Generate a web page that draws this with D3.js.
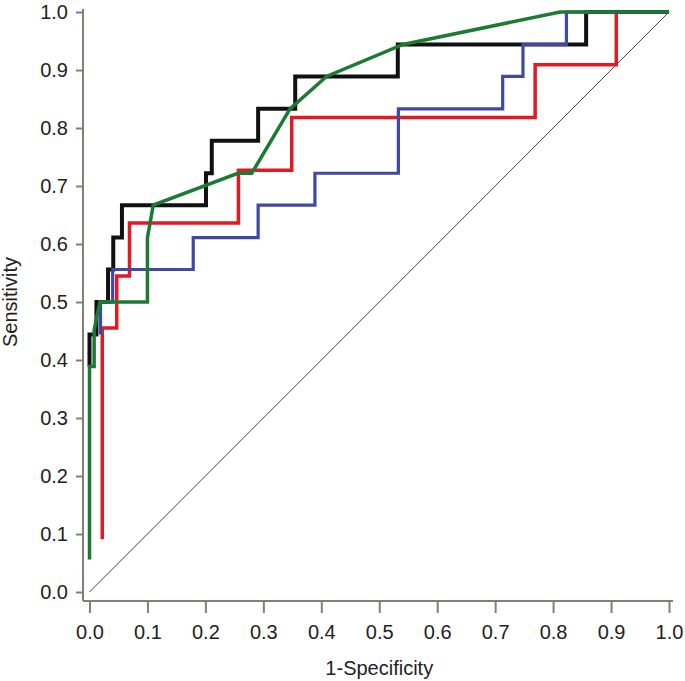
<!DOCTYPE html>
<html>
<head>
<meta charset="utf-8">
<script src="https://cdn.jsdelivr.net/npm/d3@7"></script>
<style>
  html, body { margin: 0; padding: 0; background: #fff; }
  svg { display: block; font-family: "Liberation Sans", Arial, Helvetica, sans-serif; }
</style>
</head>
<body>
<svg id="chart" width="685" height="681"></svg>
<script>
// ---- data (1-Specificity, Sensitivity) ----
const xTicks = [0, 0.1, 0.2, 0.3, 0.4, 0.5, 0.6, 0.7, 0.8, 0.9, 1.0];
const yTicks = [0, 0.1, 0.2, 0.3, 0.4, 0.5, 0.6, 0.7, 0.8, 0.9, 1.0];
const xTitle = "1-Specificity";
const yTitle = "Sensitivity";

const redFpr = [0.022, 0.022, 0.047, 0.047, 0.069, 0.069, 0.257, 0.257, 0.349, 0.349, 0.769, 0.769, 0.909, 0.909, 1.0];
const redTpr = [0.091, 0.455, 0.455, 0.545, 0.545, 0.636, 0.636, 0.727, 0.727, 0.818, 0.818, 0.909, 0.909, 1.0, 1.0];

const blackFpr = [0.0, 0.0, 0.012, 0.012, 0.032, 0.032, 0.041, 0.041, 0.056, 0.056, 0.201, 0.201, 0.211, 0.211, 0.291, 0.291, 0.355, 0.355, 0.532, 0.532, 0.857, 0.857, 1.0];
const blackTpr = [0.389, 0.444, 0.444, 0.5, 0.5, 0.556, 0.556, 0.611, 0.611, 0.667, 0.667, 0.722, 0.722, 0.778, 0.778, 0.833, 0.833, 0.889, 0.889, 0.944, 0.944, 1.0, 1.0];

const blueFpr = [0.019, 0.019, 0.04, 0.04, 0.179, 0.179, 0.291, 0.291, 0.389, 0.389, 0.533, 0.533, 0.713, 0.713, 0.748, 0.748, 0.823, 0.823, 1.0];
const blueTpr = [0.444, 0.5, 0.5, 0.556, 0.556, 0.611, 0.611, 0.667, 0.667, 0.722, 0.722, 0.833, 0.833, 0.889, 0.889, 0.944, 0.944, 1.0, 1.0];

const greenFpr = [0.0, 0.0, 0.008, 0.008, 0.018, 0.1, 0.1, 0.11, 0.256, 0.28, 0.346, 0.409, 0.541, 0.812, 1.0];
const greenTpr = [0.056, 0.389, 0.389, 0.452, 0.5, 0.5, 0.611, 0.667, 0.722, 0.722, 0.833, 0.889, 0.944, 1.0, 1.0];

const series = [
  { name: "red",   fpr: redFpr,   tpr: redTpr,   color: "#e01b24", width: 3.5 },
  { name: "black", fpr: blackFpr, tpr: blackTpr, color: "#111111", width: 4 },
  { name: "blue",  fpr: blueFpr,  tpr: blueTpr,  color: "#3d49a3", width: 3.2 },
  { name: "green", fpr: greenFpr, tpr: greenTpr, color: "#1d7a33", width: 3.5 }
];

// ---- layout ----
const svg = d3.select("#chart");
const x = d3.scaleLinear().domain([0, 1]).range([89.5, 669]);
const y = d3.scaleLinear().domain([0, 1]).range([592, 12]);
const axisX = 83, axisY = 601;
const axisColor = "#867e72";
const fmt = d3.format(".1f");

// reference diagonal
svg.append("line")
  .attr("x1", x(0)).attr("y1", y(0)).attr("x2", x(1)).attr("y2", y(1))
  .attr("stroke", "#444").attr("stroke-width", 1);

// curves
const line = d3.line().x(d => x(d[0])).y(d => y(d[1]));
series.forEach(s => {
  const pts = s.fpr.map((v, i) => [v, s.tpr[i]]);
  svg.append("path")
    .attr("d", line(pts))
    .attr("fill", "none")
    .attr("stroke", s.color)
    .attr("stroke-width", s.width)
    .attr("stroke-linejoin", "miter");
});

// axes
const gy = svg.append("g").attr("transform", `translate(${axisX},0)`)
  .call(d3.axisLeft(y).tickValues(yTicks).tickFormat(fmt).tickSize(7).tickPadding(8).tickSizeOuter(0));
gy.select(".domain").remove();
gy.append("line").attr("x1", 0).attr("x2", 0).attr("y1", 9).attr("y2", axisY)
  .attr("stroke", axisColor).attr("stroke-width", 2);

const gx = svg.append("g").attr("transform", `translate(0,${axisY})`)
  .call(d3.axisBottom(x).tickValues(xTicks).tickFormat(fmt).tickSize(12).tickPadding(12).tickSizeOuter(0));
gx.select(".domain").remove();
gx.append("line").attr("x1", axisX).attr("x2", 673).attr("y1", 0).attr("y2", 0)
  .attr("stroke", axisColor).attr("stroke-width", 2);

[gx, gy].forEach(g => {
  g.selectAll(".tick line").attr("stroke", axisColor).attr("stroke-width", 2);
  g.selectAll(".tick text").attr("fill", "#222").attr("font-size", 20)
    .attr("font-family", "'Liberation Sans', Arial, Helvetica, sans-serif");
});

// titles
svg.append("text")
  .attr("x", (x(0) + x(1)) / 2).attr("y", 675)
  .attr("text-anchor", "middle").attr("font-size", 20).attr("fill", "#222")
  .text(xTitle);

svg.append("text")
  .attr("transform", `translate(17,${(y(0) + y(1)) / 2}) rotate(-90)`)
  .attr("text-anchor", "middle").attr("font-size", 20).attr("fill", "#222")
  .text(yTitle);
</script>
</body>
</html>
